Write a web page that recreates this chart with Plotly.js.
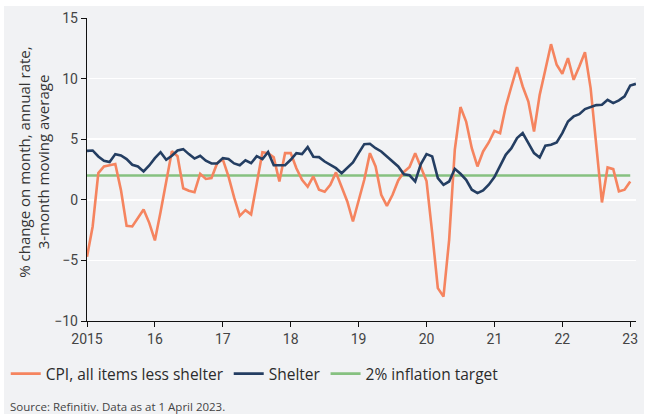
<!DOCTYPE html>
<html>
<head>
<meta charset="utf-8">
<script src="https://cdn.plot.ly/plotly-3.0.1.min.js"></script>
<style>
html,body{margin:0;padding:0;background:#ffffff;}
#wrap{position:absolute;left:4px;top:6px;width:640px;height:408px;background:#f1f2f4;}
#chart{width:640px;height:408px;}
</style>
</head>
<body>
<div id="wrap"><div id="chart"></div></div>
<script>
// Monthly observations, Jan 2015 onward
const startYear = 2015;
const cpiLessShelter = [
  -4.7, -2.2, 2.2, 2.75, 2.85, 2.95, 0.8, -2.15, -2.2, -1.5, -0.8, -1.9,
  -3.35, -1.0, 1.65, 4.0, 3.6, 0.95, 0.75, 0.63, 2.15, 1.72, 1.8, 3.02,
  3.33, 1.93, 0.2, -1.32, -0.85, -1.2, 1.35, 3.93, 3.85, 3.5, 1.51, 3.85,
  3.85, 2.6, 1.65, 1.08, 1.93, 0.83, 0.66, 1.24, 2.26, 1.1, -0.14, -1.79,
  0.0, 1.65, 3.85, 2.75, 0.41, -0.5, 0.41, 1.6, 2.3, 2.7, 3.85, 2.75,
  1.55, -2.7, -7.29, -7.98, -3.3, 4.13, 7.65, 6.46, 4.26, 2.75, 3.99, 4.73,
  5.69, 5.5, 7.7, 9.35, 10.95, 9.35, 8.11, 5.64, 8.66, 10.73, 12.84, 11.14,
  10.4, 11.69, 9.9, 11.0, 12.18, 9.21, 4.68, -0.22, 2.67, 2.53, 0.69, 0.83,
  1.51
];
const shelter = [
  4.04, 4.07, 3.58, 3.22, 3.11, 3.77, 3.66, 3.36, 2.89, 2.75, 2.34, 2.83,
  3.44, 3.93, 3.3, 3.63, 4.07, 4.18, 3.77, 3.4, 3.63, 3.23, 3.0, 3.0,
  3.44, 3.36, 3.0, 2.85, 3.26, 3.02, 3.6, 3.35, 3.95, 2.85, 2.85, 2.85,
  3.3, 3.85, 3.77, 4.35, 3.55, 3.52, 3.16, 2.89, 2.61, 2.2, 2.61, 3.08,
  3.85, 4.59, 4.62, 4.26, 3.99, 3.58, 3.16, 2.75, 2.1, 2.02, 1.51, 2.95,
  3.77, 3.58, 1.79, 1.24, 1.51, 2.56, 2.15, 1.65, 0.83, 0.55, 0.77, 1.24,
  1.87, 2.75, 3.71, 4.26, 5.09, 5.5, 4.68, 3.85, 3.49, 4.46, 4.54, 4.73,
  5.5, 6.46, 6.88, 7.07, 7.48, 7.65, 7.81, 7.84, 8.25, 7.98, 8.2, 8.53,
  9.43, 9.57
];
const targetX = [2015, 2023];
const targetY = [2, 2];
const xTickVals = [2015, 2016, 2017, 2018, 2019, 2020, 2021, 2022, 2023];
const xTickText = ['2015', '16', '17', '18', '19', '20', '21', '22', '23'];
const yTickVals = [-10, -5, 0, 5, 10, 15];
const seriesNames = ['CPI, all items less shelter', 'Shelter', '2% inflation target'];

const monthX = n => Array.from({length: n}, (_, i) => startYear + i / 12);

const TICKFONT = 'Roboto, "Noto Sans", sans-serif';
const TEXTFONT = '"Open Sans", "Noto Sans", sans-serif';
const cpiTrace = {x: monthX(cpiLessShelter.length), y: cpiLessShelter, name: seriesNames[0], type: 'scatter', mode: 'lines',
   line: {color: '#f5845f', width: 2.6}, legendrank: 1};
const shelterTrace = {x: monthX(shelter.length), y: shelter, name: seriesNames[1], type: 'scatter', mode: 'lines',
   line: {color: '#243e62', width: 2.6}, legendrank: 2};
const targetTrace = {x: targetX, y: targetY, name: seriesNames[2], type: 'scatter', mode: 'lines',
   line: {color: '#86c180', width: 2.6}, legendrank: 3};

const layout = {
  width: 640, height: 408,
  paper_bgcolor: '#f1f2f4', plot_bgcolor: '#f1f2f4',
  margin: {l: 83, r: 8, t: 12, b: 93, autoexpand: false},
  font: {family: TICKFONT, color: '#3a3a3a', size: 14},
  showlegend: true,
  legend: {orientation: 'h', x: -0.148, xanchor: 'left', y: -0.175, yanchor: 'middle',
           font: {family: TEXTFONT, size: 15.5, color: '#2b2b2b'}, bgcolor: 'rgba(0,0,0,0)',
           traceorder: 'normal', itemwidth: 30},
  xaxis: {range: [2015, 2023.085], tickvals: xTickVals, ticktext: xTickText, automargin: false,
          showgrid: false, zeroline: false, showline: true, linecolor: '#111', linewidth: 1.2,
          ticks: 'outside', ticklen: 5, tickcolor: '#111', tickfont: {size: 14, color: '#444'}},
  yaxis: {range: [-10, 15], tickvals: yTickVals, showgrid: true, gridcolor: '#ffffff', gridwidth: 1.5,
          automargin: false,
          zeroline: false, showline: true, linecolor: '#111', linewidth: 1.2,
          ticks: 'outside', ticklen: 5, tickcolor: '#111', tickfont: {size: 14, color: '#444'}},
  shapes: [{type: 'line', xref: 'paper', yref: 'y', x0: 0, x1: 1, y0: 0, y1: 0,
            line: {color: '#111', width: 1.6, dash: 'dot'}, layer: 'below'}],
  annotations: [
    {text: '% change on month, annual rate,<br>3-month moving average', xref: 'paper', yref: 'paper',
     x: -0.097, y: 0.525, xanchor: 'center', yanchor: 'middle', textangle: -90, showarrow: false,
     font: {family: TEXTFONT, size: 15, color: '#333'}},
    {text: 'Source: Refinitiv. Data as at 1 April 2023.', xref: 'paper', yref: 'paper',
     x: -0.144, y: -0.282, xanchor: 'left', yanchor: 'middle', showarrow: false,
     font: {size: 11.5, color: '#444', family: TEXTFONT}}]
};
Plotly.newPlot('chart', [targetTrace, cpiTrace, shelterTrace], layout, {displayModeBar: false, staticPlot: true});
</script>
</body>
</html>
